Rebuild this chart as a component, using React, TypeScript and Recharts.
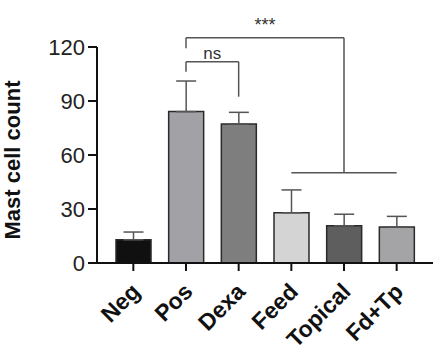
import { Bar, BarChart, Cell, ErrorBar, ReferenceLine, XAxis, YAxis } from 'recharts';

const groups = ['Neg', 'Pos', 'Dexa', 'Feed', 'Topical', 'Fd+Tp'];
const means = [12.9, 84.1, 77.2, 27.9, 20.7, 20.0];
const sems = [4.3, 17.0, 6.5, 12.7, 6.4, 5.9];
const fills = ['#101010', '#a2a2a6', '#7e7e7e', '#d4d4d4', '#5e5e5e', '#a4a4a6'];
const yTicks = [0, 30, 60, 90, 120];

// significance brackets: [x1, y1, x2, y2]
const brackets: [string, number, string, number][] = [
  ['Pos', 119.3, 'Pos', 125.2],
  ['Topical', 125.2, 'Topical', 50.2],
  ['Feed', 50.2, 'Fd+Tp', 50.2],
  ['Pos', 106.3, 'Pos', 111.8],
  ['Dexa', 111.8, 'Dexa', 92.4],
];
const topBracket = { from: 'Pos', to: 'Topical', y: 125.2, text: '***' };
const nsBracket = { from: 'Pos', to: 'Dexa', y: 111.8, text: 'ns' };

const data = groups.map((name, i) => ({ name, mean: means[i], err: [0, sems[i]] }));

const FONT = '"Liberation Sans", Arial, sans-serif';

const XTick = ({ x, y, payload }: any) => {
  const ax = x + 8;
  const ay = y + 20;
  return (
    <text
      x={ax}
      y={ay}
      transform={`rotate(-45, ${ax}, ${ay})`}
      textAnchor="end"
      fontWeight="bold"
      fontSize={23}
      fontFamily={FONT}
      fill="#111"
    >
      {payload.value}
    </text>
  );
};

const YLabel = () => {
  const cx = 20;
  const cy = 160;
  return (
    <text
      x={cx}
      y={cy}
      transform={`rotate(-90, ${cx}, ${cy})`}
      textAnchor="middle"
      fontWeight="bold"
      fontSize={22}
      fontFamily={FONT}
      fill="#111"
    >
      Mast cell count
    </text>
  );
};

export default function App() {
  return (
    <div style={{ position: 'absolute', left: 0, top: 0, background: '#fff' }}>
      <BarChart width={444} height={357} data={data} margin={{ top: 47, right: 11, bottom: 0, left: 0 }}>
        <XAxis
          dataKey="name"
          height={94}
          padding={{ left: 10, right: 10 }}
          axisLine={{ stroke: '#111', strokeWidth: 2 }}
          tickLine={{ stroke: '#111', strokeWidth: 2 }}
          tickSize={8}
          interval={0}
          tick={<XTick />}
        />
        <YAxis
          width={97}
          domain={[0, 120]}
          ticks={yTicks}
          interval={0}
          axisLine={{ stroke: '#111', strokeWidth: 2 }}
          tickLine={{ stroke: '#111', strokeWidth: 2 }}
          tickSize={9}
          tickMargin={3}
          tick={{ fontSize: 22, fill: '#222', fontFamily: FONT }}
          label={<YLabel />}
        />
        <Bar dataKey="mean" barSize={35} stroke="#2a2a2a" strokeWidth={1.5} isAnimationActive={false}>
          {data.map((d, i) => (
            <Cell key={d.name} fill={fills[i]} />
          ))}
          <ErrorBar dataKey="err" width={10} stroke="#555" strokeWidth={1.5} direction="y" />
        </Bar>
        {brackets.map(([x1, y1, x2, y2], i) => (
          <ReferenceLine
            key={i}
            segment={[{ x: x1, y: y1 }, { x: x2, y: y2 }]}
            stroke="#555"
            strokeWidth={1.5}
            ifOverflow="visible"
          />
        ))}
        {[topBracket, nsBracket].map((b) => (
          <ReferenceLine
            key={b.text}
            segment={[{ x: b.from, y: b.y }, { x: b.to, y: b.y }]}
            stroke="#555"
            strokeWidth={1.5}
            ifOverflow="visible"
            label={{
              value: b.text,
              position: 'top',
              offset: b.text === 'ns' ? 3 : 7,
              fontSize: b.text === 'ns' ? 17 : 18,
              fill: '#333',
              fontFamily: FONT,
            }}
          />
        ))}
      </BarChart>
    </div>
  );
}
